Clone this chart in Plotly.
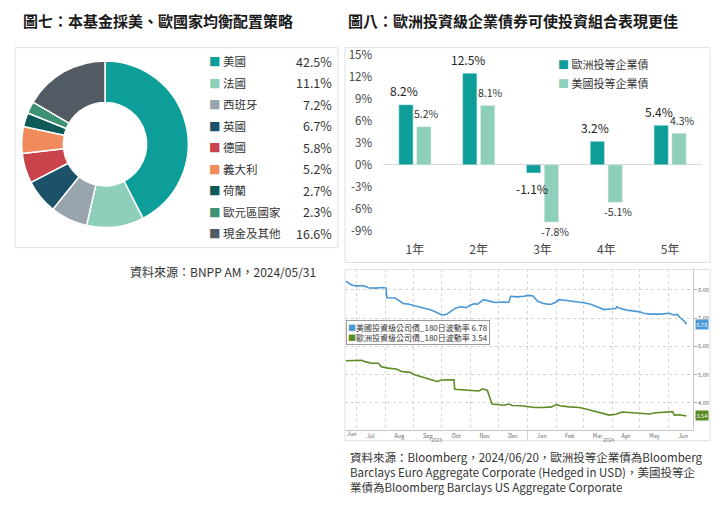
import plotly.graph_objects as go

W, H = 725, 508
OFF = 8  # page body margin of the html page
FW, FH = W - OFF, H - OFF
FONT = "Noto Sans CJK TC"

# ---------------- data ----------------
alloc_labels = ["美國", "法國", "西班牙", "英國", "德國", "義大利", "荷蘭", "歐元區國家", "現金及其他"]
alloc_values = [42.5, 11.1, 7.2, 6.7, 5.8, 5.2, 2.7, 2.3, 16.6]
alloc_colors = ["#0E9E9A", "#8ECFBB", "#98A4AC", "#1B5269", "#C8434C",
                "#F08C5C", "#0D5A59", "#3D9273", "#525B63"]

periods = ["1年", "2年", "3年", "4年", "5年"]
bar_series = ["歐洲投等企業債", "美國投等企業債"]
euro_ret = [8.2, 12.5, -1.1, 3.2, 5.4]
us_ret = [5.2, 8.1, -7.8, -5.1, 4.3]
bar_colors = ["#0E9E9A", "#8ECFBB"]
bar_ticks = [-9, -6, -3, 0, 3, 6, 9, 12, 15]

line_series = ["美國投資級公司債_180日波動率", "歐洲投資級公司債_180日波動率"]
line_colors = ["#4A98D6", "#5B8C25"]
us_dates = ["2023-06-20", "2023-06-26", "2023-07-02", "2023-07-07", "2023-07-11", "2023-07-14",
            "2023-07-21", "2023-07-30", "2023-08-02", "2023-08-03", "2023-08-12", "2023-08-21",
            "2023-08-26", "2023-09-01", "2023-09-06", "2023-09-13", "2023-09-18", "2023-09-24",
            "2023-09-29", "2023-10-01", "2023-10-06", "2023-10-11", "2023-10-16", "2023-10-22",
            "2023-10-27", "2023-11-01", "2023-11-05", "2023-11-08", "2023-11-15", "2023-11-22",
            "2023-11-28", "2023-12-07", "2023-12-12", "2023-12-14", "2023-12-21", "2023-12-28",
            "2024-01-03", "2024-01-07", "2024-01-12", "2024-01-19", "2024-01-26", "2024-02-01",
            "2024-02-04", "2024-02-10", "2024-02-17", "2024-02-24", "2024-03-02", "2024-03-09",
            "2024-03-16", "2024-03-23", "2024-03-30", "2024-04-05", "2024-04-06", "2024-04-10",
            "2024-04-17", "2024-04-24", "2024-05-01", "2024-05-05", "2024-05-12", "2024-05-23",
            "2024-06-01", "2024-06-06", "2024-06-10", "2024-06-13", "2024-06-18", "2024-06-20"]
us_vol = [8.30, 8.17, 8.13, 8.15, 8.12, 8.07, 8.06, 8.08, 8.06, 7.72, 7.71, 7.51,
          7.50, 7.46, 7.40, 7.34, 7.30, 7.22, 7.14, 7.11, 7.13, 7.25, 7.36, 7.40,
          7.37, 7.46, 7.51, 7.48, 7.65, 7.59, 7.55, 7.57, 7.55, 7.77, 7.75, 7.77,
          7.80, 7.78, 7.59, 7.51, 7.48, 7.57, 7.65, 7.63, 7.61, 7.57, 7.54, 7.49,
          7.40, 7.30, 7.32, 7.34, 7.40, 7.34, 7.28, 7.25, 7.22, 7.17, 7.14, 7.14,
          7.17, 7.11, 7.13, 7.02, 6.88, 6.78]
eu_dates = ["2023-06-20", "2023-07-02", "2023-07-07", "2023-07-11", "2023-07-18", "2023-07-25",
            "2023-07-28", "2023-08-04", "2023-08-13", "2023-08-19", "2023-08-28", "2023-09-01",
            "2023-09-08", "2023-09-15", "2023-09-20", "2023-09-26", "2023-10-01", "2023-10-08",
            "2023-10-14", "2023-10-15", "2023-10-22", "2023-11-01", "2023-11-10", "2023-11-14",
            "2023-11-19", "2023-11-24", "2023-11-30", "2023-12-07", "2023-12-12", "2023-12-16",
            "2023-12-25", "2024-01-04", "2024-01-09", "2024-01-18", "2024-01-27", "2024-02-01",
            "2024-02-05", "2024-02-15", "2024-02-26", "2024-03-06", "2024-03-13", "2024-03-22",
            "2024-03-29", "2024-04-05", "2024-04-12", "2024-04-23", "2024-05-02", "2024-05-11",
            "2024-05-18", "2024-06-01", "2024-06-05", "2024-06-07", "2024-06-12", "2024-06-20"]
eu_vol = [5.49, 5.49, 5.51, 5.45, 5.40, 5.40, 5.28, 5.23, 5.20, 5.11,
          5.08, 5.00, 4.94, 4.88, 4.81, 4.76, 4.81, 4.81, 4.82, 4.48,
          4.47, 4.44, 4.42, 4.50, 4.44, 3.96, 3.94, 3.92, 3.96, 3.91,
          3.90, 3.86, 3.84, 3.84, 3.86, 3.94, 3.90, 3.86, 3.84, 3.77,
          3.71, 3.61, 3.57, 3.60, 3.68, 3.65, 3.63, 3.61, 3.65, 3.68,
          3.69, 3.57, 3.58, 3.54]
first_month_label = "Jun"
first_month_pos = "2023-06-26"
year_labels = ["2023", "2024"]
year_pos = ["2023-09-25", "2024-03-28"]


def px(x):
    return (x - OFF) / FW


def py(y):
    return 1 - (y - OFF) / FH


fig = go.Figure()

# ---------------- donut ----------------
fig.add_trace(go.Pie(
    labels=alloc_labels, values=alloc_values, hole=0.5, sort=False,
    direction="clockwise", rotation=0, textinfo="none",
    marker=dict(colors=alloc_colors, line=dict(color="white", width=1.5)),
    domain=dict(x=[px(21.7), px(188.3)], y=[py(225), py(56)]),
    showlegend=False,
))

# ---------------- bars ----------------
for name, vals, col in zip(bar_series, [euro_ret, us_ret], bar_colors):
    fig.add_trace(go.Bar(x=periods, y=vals, name=name, marker_color=col,
                         xaxis="x", yaxis="y", showlegend=False))

# ---------------- lines ----------------
for name, xs, ys, col in zip(line_series, [us_dates, eu_dates], [us_vol, eu_vol], line_colors):
    fig.add_trace(go.Scatter(x=xs, y=ys, name=name, mode="lines",
                             line=dict(color=col, width=1.6),
                             xaxis="x2", yaxis="y2", showlegend=False))

annotations = []
# titles
annotations.append(dict(x=px(21), y=py(16), xref="paper", yref="paper", xanchor="left",
                        yanchor="middle", showarrow=False,
                        text="<b>圖七：本基金採美、歐國家均衡配置策略</b>",
                        font=dict(family=FONT, size=15, color="#1A1A1A")))
annotations.append(dict(x=px(346), y=py(16), xref="paper", yref="paper", xanchor="left",
                        yanchor="middle", showarrow=False,
                        text="<b>圖八：歐洲投資級企業債券可使投資組合表現更佳</b>",
                        font=dict(family=FONT, size=15, color="#1A1A1A")))

# donut legend
for i, (lab, val, col) in enumerate(zip(alloc_labels, alloc_values, alloc_colors)):
    yy = py(56.5 + i * 21.75)
    annotations.append(dict(x=px(207), y=yy, xref="paper", yref="paper", xanchor="left",
                            yanchor="middle", showarrow=False,
                            text=f"<span style='color:{col}'>■</span> {lab}",
                            font=dict(family=FONT, size=11.5, color="#333333")))
    annotations.append(dict(x=px(334), y=yy, xref="paper", yref="paper", xanchor="right",
                            yanchor="middle", showarrow=False, text=f"{val:.1f}%",
                            font=dict(family=FONT, size=12.5, color="#333333")))

annotations.append(dict(x=px(128), y=py(269), xref="paper", yref="paper", xanchor="left",
                        yanchor="middle", showarrow=False,
                        text="資料來源：BNPP AM，2024/05/31",
                        font=dict(family=FONT, size=12, color="#333333")))

# bar legend
for i, (name, col) in enumerate(zip(bar_series, bar_colors)):
    annotations.append(dict(x=px(556), y=py(60 + i * 19), xref="paper", yref="paper",
                            xanchor="left", yanchor="middle", showarrow=False,
                            text=f"<span style='color:{col}'>■</span> {name}",
                            font=dict(family=FONT, size=11, color="#333333")))

# bar value labels
for p, v in zip(periods, euro_ret):
    annotations.append(dict(x=p, y=v, xref="x", yref="y", xshift=-11,
                            yshift=14 if v >= 0 else -16, showarrow=False,
                            text=f"{v:.1f}%", font=dict(family=FONT, size=12, color="#222222")))
for p, v in zip(periods, us_ret):
    annotations.append(dict(x=p, y=v, xref="x", yref="y", xshift=12,
                            yshift=13 if v >= 0 else -9, showarrow=False,
                            text=f"{v:.1f}%", font=dict(family=FONT, size=10.5, color="#333333")))

# line legend box
legend_txt = "<br>".join(
    f"<span style='color:{c}'>■</span>{n} {ys[-1]:.2f}"
    for n, c, ys in zip(line_series, line_colors, [us_vol, eu_vol]))
annotations.append(dict(x=px(346), y=py(318), xref="paper", yref="paper", xanchor="left",
                        yanchor="top", showarrow=False, align="left", text=legend_txt,
                        font=dict(family=FONT, size=8, color="#333333"),
                        bgcolor="white", bordercolor="#9A9A9A", borderwidth=1, borderpad=1))
# last value tags
for ys, c in zip([us_vol, eu_vol], line_colors):
    annotations.append(dict(x=px(695), y=ys[-1], xref="paper", yref="y2", xanchor="left",
                            yanchor="middle", showarrow=False, text=f"{ys[-1]:.2f}",
                            font=dict(family=FONT, size=5.5, color="white"),
                            bgcolor=c, borderpad=0.5))
# first (partial) month label and year labels
annotations.append(dict(x=first_month_pos, y=py(433), xref="x2", yref="paper",
                        yanchor="middle", showarrow=False, text=first_month_label,
                        font=dict(family=FONT, size=5.5, color="#666666")))
for lab, pos in zip(year_labels, year_pos):
    annotations.append(dict(x=pos, y=py(438.5), xref="x2", yref="paper", yanchor="middle",
                            showarrow=False, text=lab,
                            font=dict(family=FONT, size=5, color="#777777")))

# bottom source
annotations.append(dict(
    x=px(348), y=py(446), xref="paper", yref="paper", xanchor="left", yanchor="top",
    showarrow=False, align="left",
    text=("資料來源：Bloomberg，2024/06/20，歐洲投等企業債為Bloomberg<br>"
          "Barclays Euro Aggregate Corporate (Hedged in USD)，美國投等企<br>"
          "業債為Bloomberg Barclays US Aggregate Corporate"),
    font=dict(family=FONT, size=11.5, color="#333333")))

shapes = []
for (x0, y0, x1, y1) in [(15, 43, 338, 245), (345, 43, 710, 260), (345, 267, 710, 440)]:
    shapes.append(dict(type="rect", xref="paper", yref="paper", x0=px(x0), x1=px(x1),
                       y0=py(y1), y1=py(y0), line=dict(color="#E0E0E0", width=1),
                       fillcolor="rgba(0,0,0,0)", layer="below"))
shapes.append(dict(type="line", xref="x2", yref="paper", x0="2024-01-01", x1="2024-01-01",
                   y0=py(440), y1=py(429), line=dict(color="#CCCCCC", width=1)))

fig.update_layout(
    width=FW, height=FH, margin=dict(l=0, r=0, t=0, b=0),
    paper_bgcolor="white", plot_bgcolor="white",
    font=dict(family=FONT, color="#333333"),
    barmode="group", bargap=0.44, bargroupgap=0.2,
    xaxis=dict(domain=[px(383), px(702)], anchor="y", showgrid=False, showline=False,
               ticks="", ticklabelstandoff=3,
               tickfont=dict(size=12, color="#444444"), fixedrange=True),
    yaxis=dict(domain=[py(235.5), py(46.5)], anchor="x", range=[-10, 15.5],
               tickvals=bar_ticks, ticktext=[f"{t}%" for t in bar_ticks],
               showgrid=False, zeroline=True, zerolinecolor="#D9D9D9", zerolinewidth=1,
               ticks="", ticklabelstandoff=10, tickfont=dict(size=11.5, color="#444444")),
    xaxis2=dict(type="date", domain=[px(345), px(693)], anchor="y2",
                range=["2023-06-19", "2024-06-27"], dtick="M1", tick0="2023-07-01",
                ticklabelmode="period", tickformat="%b",
                tickfont=dict(size=5.5, color="#666666"), ticks="",
                showgrid=True, gridcolor="#D5D5D5", griddash="dot", gridwidth=1,
                showline=True, linecolor="#C8C8C8", linewidth=1, ticklabelstandoff=1),
    yaxis2=dict(domain=[py(429), py(267)], anchor="x2", side="right", range=[3.05, 8.72],
                dtick=1, tick0=4, tickformat=".2f", tickfont=dict(size=5.5, color="#666666"),
                ticks="outside", ticklen=3, tickcolor="#AAAAAA",
                showgrid=True, gridcolor="#D5D5D5", griddash="dot", gridwidth=1,
                showline=True, linecolor="#C8C8C8", linewidth=1, zeroline=False),
    annotations=annotations, shapes=shapes,
)

fig.write_html("out.html")
